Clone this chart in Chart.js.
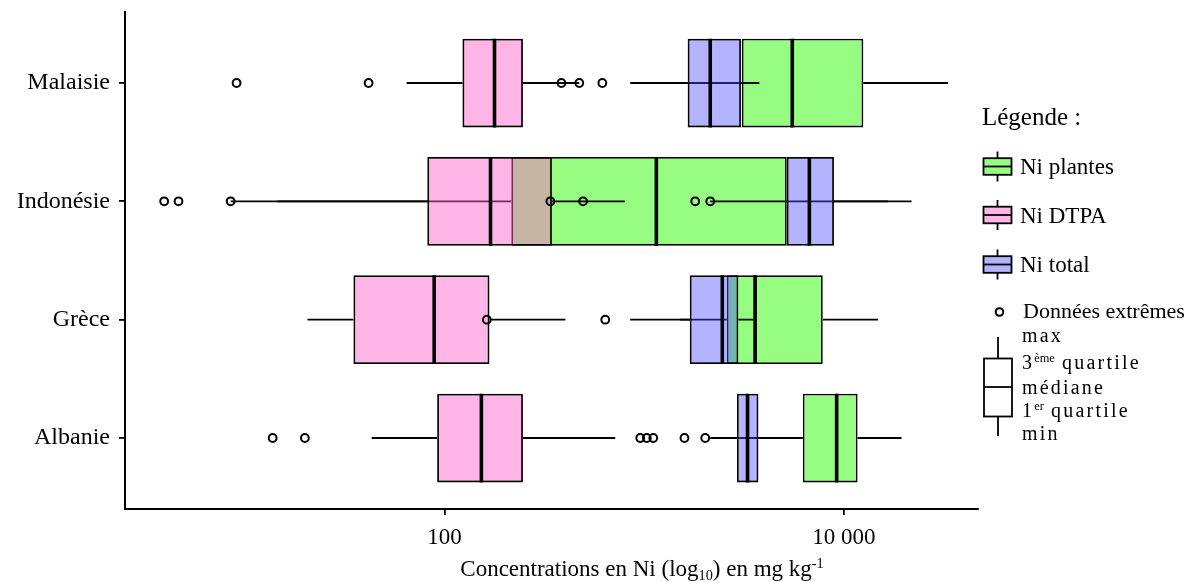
<!DOCTYPE html>
<html lang="fr">
<head>
<meta charset="utf-8">
<title>Concentrations en Ni</title>
<script src="https://cdn.jsdelivr.net/npm/chart.js@4.4.1/dist/chart.umd.min.js"></script>
<style>
  html, body { margin: 0; padding: 0; background: #fff; }
  #wrap { position: relative; width: 1197px; height: 582px; font-family: 'Liberation Serif', 'Times New Roman', serif; color: #000; }
  #wrap canvas, #keys { position: absolute; left: 0; top: 0; }
  .txt { position: absolute; white-space: nowrap; line-height: 1; transform: translateY(-50%); }
  .txt sub, .txt sup { font-size: 0.62em; line-height: 0; position: relative; vertical-align: baseline; }
  .txt sub { top: 0.3em; }
  .txt sup { top: -0.55em; }
  .lbl { font-size: 23px; left: 1020px; }
  .expl { font-size: 20px; left: 1022px; letter-spacing: 2.2px; }
  .expl sup { letter-spacing: 0; }
</style>
</head>
<body>
<div id="wrap">
  <canvas id="boxChart" width="1197" height="582"></canvas>
  <svg id="keys" width="1197" height="582"></svg>

  <div class="txt" style="left:642px; top:568px; font-size:23px; transform:translate(-50%,-50%)">Concentrations en Ni (log<sub>10</sub>) en mg kg<sup>-1</sup></div>

  <div class="txt" style="left:982px; top:116px; font-size:25px">Légende :</div>
  <div class="txt lbl" style="top:166px">Ni plantes</div>
  <div class="txt lbl" style="top:215px">Ni DTPA</div>
  <div class="txt lbl" style="top:264px">Ni total</div>
  <div class="txt" style="left:1023px; top:311px; font-size:22px">Données extrêmes</div>
  <div class="txt expl" style="top:335px">max</div>
  <div class="txt expl" style="top:362px">3<sup>ème</sup> quartile</div>
  <div class="txt expl" style="top:387px">médiane</div>
  <div class="txt expl" style="top:410px">1<sup>er</sup> quartile</div>
  <div class="txt expl" style="top:433px">min</div>
</div>

<script>
const countries = ['Malaisie', 'Indonésie', 'Grèce', 'Albanie'];

// [min, Q1, médiane, Q3, max] par pays (mg/kg)
const niPlantes = [
  [851, 3080, 5510, 12500, 33200],
  [14.6, 216, 1150, 5170, 21800],
  [851, 2590, 3590, 7830, 14800],
  [2140, 6220, 9190, 11700, 19400]
];
const niDTPA = [
  [64.6, 123, 178, 247, 473],
  [8.5, 82, 170, 345, 800],
  [20.6, 35, 88.8, 168, 403],
  [43.2, 91.9, 153, 247, 716]
];
const niTotal = [
  [1070, 1650, 2140, 3050, 3770],
  [2140, 5170, 6710, 8910, 16600],
  [1510, 1690, 2460, 2960, 3670],
  [2450, 2910, 3290, 3730, 4350]
];
// données extrêmes par pays
const outliers = [
  [9.1, 41.7, 385, 473, 617],
  [3.95, 4.66, 8.5, 339, 494, 1800, 2140],
  [163, 638],
  [13.8, 20.0, 955, 1030, 1110, 1590, 2020]
];

const xTicks = [100, 10000];
const xTickLabels = ['100', '10 000'];

const FONT = 'Liberation Serif';
const BOX = 0.75; // largeur des boîtes (unités de catégorie)

const series = [
  { name: 'Ni plantes', stats: niPlantes, fill: 'rgb(150,253,130)', key: '#96fd82', order: 30 },
  { name: 'Ni DTPA', stats: niDTPA, fill: 'rgba(255,96,200,0.46)', key: '#ffb6e6', order: 20 },
  { name: 'Ni total', stats: niTotal, fill: 'rgba(74,74,255,0.42)', key: '#b3b3ff', order: 10 }
];

function whiskerPts(stats) {
  const pts = [];
  stats.forEach((s, i) => {
    pts.push({ x: s[0], y: i + 1 }, { x: s[1], y: i + 1 }, { x: null, y: null });
    pts.push({ x: s[3], y: i + 1 }, { x: s[4], y: i + 1 }, { x: null, y: null });
  });
  return pts;
}

function medianPts(stats) {
  const pts = [];
  stats.forEach((s, i) => {
    pts.push({ x: s[2], y: i + 1 - BOX / 2 }, { x: s[2], y: i + 1 + BOX / 2 }, { x: null, y: null });
  });
  return pts;
}

const datasets = [];
series.forEach(s => {
  datasets.push({
    type: 'scatter', label: s.name + ' moustaches', data: whiskerPts(s.stats),
    showLine: true, borderColor: '#000', borderWidth: 1.8, pointRadius: 0, order: s.order + 2
  });
  datasets.push({
    type: 'bar', label: s.name, indexAxis: 'y',
    data: s.stats.map((v, i) => ({ x: [v[1], v[3]], y: i + 1 })),
    backgroundColor: s.fill, borderColor: '#000', borderWidth: 1.8, borderSkipped: false,
    grouped: false, categoryPercentage: BOX, barPercentage: 1, order: s.order + 1
  });
  datasets.push({
    type: 'scatter', label: s.name + ' médiane', data: medianPts(s.stats),
    showLine: true, borderColor: '#000', borderWidth: 3.6, pointRadius: 0, order: s.order
  });
});
datasets.push({
  type: 'scatter', label: 'Données extrêmes',
  data: outliers.flatMap((list, i) => list.map(v => ({ x: v, y: i + 1 }))),
  pointRadius: 3.9, pointBorderWidth: 2, borderColor: '#000', backgroundColor: 'rgba(0,0,0,0)', order: 0
});

Chart.defaults.font.family = FONT;
Chart.defaults.color = '#000';

new Chart(document.getElementById('boxChart'), {
  type: 'bar',
  data: { datasets },
  options: {
    responsive: false,
    devicePixelRatio: 1,
    animation: false,
    events: [],
    indexAxis: 'y',
    layout: { padding: { top: 12, right: 1197 - 978, left: 0, bottom: 0 } },
    plugins: { legend: { display: false }, tooltip: { enabled: false } },
    scales: {
      x: {
        type: 'logarithmic', position: 'bottom', min: 2.515, max: 46880, offset: false,
        afterFit: s => { s.height = 73; s.paddingLeft = 0; s.paddingRight = 0; },
        afterBuildTicks: s => { s.ticks = xTicks.map(v => ({ value: v })); },
        ticks: { callback: (v, i) => xTickLabels[i], font: { size: 23 }, color: '#000', padding: 9, maxRotation: 0, autoSkip: false },
        grid: { drawOnChartArea: false, tickLength: 6, color: '#000', lineWidth: 1.8, offset: false },
        border: { color: '#000', width: 2 }
      },
      y: {
        type: 'linear', reverse: true, min: 0.4, max: 4.6, offset: false,
        afterFit: s => { s.width = 125; s.paddingTop = 0; s.paddingBottom = 0; },
        afterBuildTicks: s => { s.ticks = countries.map((c, i) => ({ value: i + 1 })); },
        ticks: { callback: (v, i) => countries[i], font: { size: 24 }, color: '#000', padding: 9, autoSkip: false },
        grid: { drawOnChartArea: false, tickLength: 6, color: '#000', lineWidth: 1.8, offset: false },
        border: { color: '#000', width: 2 }
      }
    }
  }
});

// glyphes de la légende
const svg = document.getElementById('keys');
const NS = 'http://www.w3.org/2000/svg';
function el(tag, attrs) {
  const e = document.createElementNS(NS, tag);
  for (const k in attrs) e.setAttribute(k, attrs[k]);
  svg.appendChild(e);
  return e;
}
const keyRows = [166.5, 215, 264.5];
series.forEach((s, i) => {
  const cy = keyRows[i];
  el('line', { x1: 997.5, y1: cy - 15, x2: 997.5, y2: cy + 15, stroke: '#000', 'stroke-width': 1.8 });
  el('rect', { x: 983.5, y: cy - 8.3, width: 28, height: 16.6, fill: s.key, stroke: '#000', 'stroke-width': 1.8 });
  el('line', { x1: 983.5, y1: cy, x2: 1011.5, y2: cy, stroke: '#000', 'stroke-width': 1.8 });
});
el('circle', { cx: 999.5, cy: 312, r: 3.8, fill: 'none', stroke: '#000', 'stroke-width': 2 });
el('line', { x1: 998, y1: 337, x2: 998, y2: 436, stroke: '#000', 'stroke-width': 1.8 });
el('rect', { x: 984, y: 358.5, width: 28, height: 58, fill: '#fff', stroke: '#000', 'stroke-width': 1.8 });
el('line', { x1: 984, y1: 387, x2: 1012, y2: 387, stroke: '#000', 'stroke-width': 1.8 });
</script>
</body>
</html>
